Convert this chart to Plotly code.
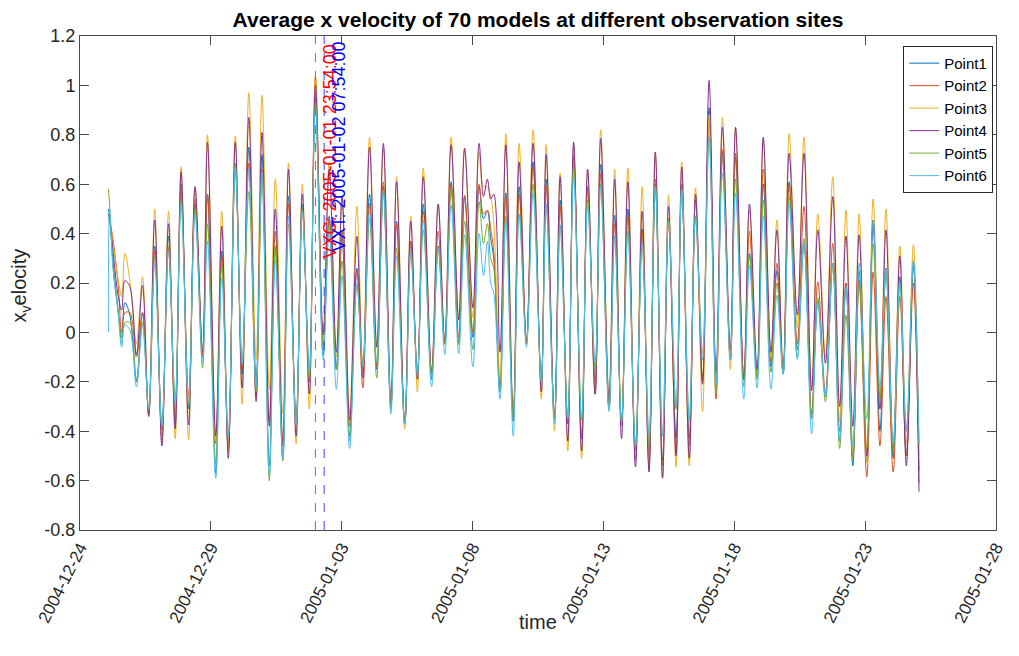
import pandas as pd
import plotly.graph_objects as go

# Sample times: hours after the first record
start_time = "2004-12-25 02:00"
hours = [0.0, 1.1, 4.5, 9.1, 12.2, 15.2, 19.7, 25.8, 31.3, 37.0,
         42.5, 49.1, 55.2, 61.3, 66.7, 73.6, 79.5, 86.4, 90.9, 98.5,
         104.0, 110.0, 116.4, 122.7, 128.8, 135.5, 140.9, 147.6, 153.1, 160.0,
         165.2, 172.2, 177.9, 184.3, 189.9, 197.0, 202.5, 209.1, 214.3, 221.3,
         227.9, 233.4, 239.5, 246.1, 252.2, 259.1, 264.3, 271.8, 277.3, 283.4,
         288.8, 296.4, 302.5, 308.5, 314.3, 321.3, 326.7, 334.3, 340.0, 344.0,
         347.6, 350.6, 353.4, 359.1, 364.5, 371.3, 376.7, 383.4, 389.5, 397.0,
         401.5, 409.1, 414.3, 421.3, 426.7, 434.0, 439.5, 446.4, 451.5, 459.1,
         464.3, 470.6, 476.4, 483.4, 489.5, 495.8, 501.6, 508.2, 513.7, 520.6,
         525.8, 532.7, 538.5, 544.9, 550.9, 557.3, 563.1, 570.4, 575.2, 582.7,
         587.9, 594.9, 600.6, 607.6, 613.1, 618.8, 624.3, 631.8, 637.9, 644.9,
         650.6, 657.6, 664.3, 670.6, 676.4, 682.7, 688.5, 695.5, 701.3, 707.6,
         713.1, 719.7, 725.8, 731.8, 738.2, 743.4]

point1 = [0.50, 0.47, 0.28, 0.08, -0.02, 0.12, 0.07, -0.20, 0.08, -0.33,
          0.35, -0.39, 0.39, -0.37, 0.60, -0.31, 0.52, -0.10, 0.56, -0.57,
          0.33, -0.47, 0.67, -0.17, 0.75, -0.20, 0.72, -0.54, 0.34, -0.51,
          0.55, -0.36, 0.52, -0.16, 0.95, -0.09, 0.47, -0.15, 0.39, -0.42,
          0.26, -0.15, 0.56, -0.15, 0.59, -0.31, 0.45, -0.37, 0.37, -0.165,
          0.52, -0.19, 0.35, -0.045, 0.61, -0.045, 0.55, -0.02, 0.59, 0.46,
          0.49, 0.38, 0.30, -0.24, 0.565, -0.35, 0.59, -0.045, 0.69, -0.20,
          0.62, -0.35, 0.535, -0.37, 0.72, -0.43, 0.59, -0.20, 0.68, -0.31,
          0.475, -0.37, 0.50, -0.48, 0.42, -0.50, 0.60, -0.52, 0.455, -0.43,
          0.59, -0.43, 0.535, -0.19, 0.91, -0.20, 0.73, -0.11, 0.71, -0.19,
          0.32, -0.18, 0.60, -0.14, 0.25, -0.165, 0.61, -0.07, 0.36, -0.33,
          0.125, -0.26, 0.28, -0.44, 0.20, -0.54, 0.25, -0.52, 0.455, -0.40,
          0.26, -0.51, 0.225, -0.50, 0.29, -0.56]

point2 = [0.48, 0.46, 0.37, 0.19, 0.00, 0.08, 0.08, -0.10, 0.08, -0.33,
          0.33, -0.42, 0.34, -0.35, 0.57, -0.26, 0.54, -0.09, 0.56, -0.45,
          0.31, -0.47, 0.685, -0.15, 0.685, -0.26, 0.66, -0.36, 0.41, -0.44,
          0.52, -0.36, 0.50, -0.20, 1.03, -0.05, 0.46, -0.15, 0.41, -0.38,
          0.25, -0.225, 0.52, -0.14, 0.61, -0.30, 0.44, -0.37, 0.37, -0.165,
          0.49, -0.17, 0.41, -0.045, 0.60, -0.02, 0.555, 0.00, 0.60, 0.48,
          0.495, 0.42, 0.33, -0.21, 0.55, -0.35, 0.56, -0.045, 0.67, -0.20,
          0.59, -0.35, 0.51, -0.37, 0.71, -0.43, 0.585, -0.25, 0.64, -0.31,
          0.44, -0.37, 0.47, -0.51, 0.41, -0.54, 0.62, -0.54, 0.46, -0.48,
          0.60, -0.46, 0.47, -0.20, 0.87, -0.27, 0.74, -0.11, 0.725, -0.19,
          0.41, -0.18, 0.66, -0.12, 0.28, -0.165, 0.60, -0.045, 0.51, -0.35,
          0.205, -0.245, 0.36, -0.40, 0.20, -0.51, 0.21, -0.585, 0.245, -0.46,
          0.145, -0.565, 0.145, -0.50, 0.20, -0.61]

point3 = [0.47, 0.45, 0.35, 0.21, 0.145, 0.32, 0.21, -0.045, 0.225, -0.34,
          0.50, -0.45, 0.49, -0.43, 0.67, -0.435, 0.59, -0.08, 0.80, -0.44,
          0.49, -0.48, 0.795, -0.29, 0.97, -0.11, 0.96, -0.23, 0.62, -0.33,
          0.685, -0.45, 0.60, -0.31, 1.04, -0.04, 0.69, -0.10, 0.52, -0.33,
          0.51, -0.15, 0.79, -0.05, 0.75, -0.29, 0.63, -0.39, 0.47, -0.24,
          0.665, -0.16, 0.52, -0.045, 0.79, 0.05, 0.745, 0.06, 0.73, 0.59,
          0.59, 0.55, 0.45, -0.19, 0.805, -0.34, 0.765, -0.045, 0.82, -0.27,
          0.76, -0.40, 0.645, -0.48, 0.76, -0.51, 0.66, -0.24, 0.82, -0.26,
          0.66, -0.38, 0.665, -0.52, 0.59, -0.54, 0.73, -0.59, 0.555, -0.545,
          0.69, -0.54, 0.585, -0.32, 0.88, -0.24, 0.87, -0.15, 0.83, -0.19,
          0.50, -0.18, 0.78, -0.10, 0.455, -0.15, 0.805, 0.02, 0.79, -0.235,
          0.48, -0.10, 0.63, -0.36, 0.495, -0.48, 0.48, -0.53, 0.54, -0.27,
          0.50, -0.48, 0.35, -0.45, 0.355, -0.50]

point4 = [0.48, 0.46, 0.32, 0.145, 0.09, 0.21, 0.185, -0.09, 0.19, -0.34,
          0.455, -0.46, 0.44, -0.39, 0.65, -0.375, 0.59, -0.08, 0.77, -0.42,
          0.43, -0.51, 0.77, -0.225, 0.87, -0.28, 0.81, -0.38, 0.50, -0.46,
          0.66, -0.42, 0.56, -0.25, 1.00, -0.01, 0.66, -0.08, 0.55, -0.355,
          0.39, -0.185, 0.75, -0.06, 0.765, -0.29, 0.61, -0.37, 0.45, -0.19,
          0.63, -0.16, 0.52, -0.045, 0.76, 0.05, 0.745, 0.10, 0.765, 0.55,
          0.62, 0.54, 0.56, -0.08, 0.76, -0.36, 0.69, -0.045, 0.765, -0.24,
          0.72, -0.35, 0.63, -0.44, 0.77, -0.48, 0.66, -0.25, 0.785, -0.28,
          0.62, -0.43, 0.61, -0.545, 0.49, -0.565, 0.73, -0.59, 0.51, -0.50,
          0.67, -0.51, 0.56, -0.21, 1.02, -0.165, 0.83, -0.07, 0.83, -0.19,
          0.52, -0.15, 0.79, -0.08, 0.415, -0.165, 0.725, 0.07, 0.725, -0.235,
          0.415, -0.125, 0.55, -0.30, 0.39, -0.38, 0.395, -0.50, 0.455, -0.31,
          0.415, -0.48, 0.31, -0.54, 0.27, -0.645]

point5 = [0.58, 0.52, 0.25, 0.09, -0.045, 0.04, 0.04, -0.19, 0.04, -0.31,
          0.31, -0.38, 0.35, -0.27, 0.54, -0.29, 0.50, -0.145, 0.44, -0.53,
          0.27, -0.41, 0.68, -0.12, 0.57, -0.24, 0.63, -0.60, 0.35, -0.52,
          0.44, -0.36, 0.50, -0.19, 0.93, -0.07, 0.435, -0.15, 0.29, -0.44,
          0.19, -0.125, 0.46, -0.185, 0.565, -0.30, 0.34, -0.37, 0.33, -0.165,
          0.415, -0.17, 0.35, -0.05, 0.58, -0.05, 0.45, -0.07, 0.53, 0.36,
          0.44, 0.30, 0.26, -0.24, 0.47, -0.35, 0.48, -0.04, 0.60, -0.20,
          0.51, -0.35, 0.435, -0.35, 0.67, -0.355, 0.535, -0.15, 0.60, -0.31,
          0.39, -0.36, 0.41, -0.45, 0.36, -0.46, 0.59, -0.42, 0.455, -0.31,
          0.58, -0.35, 0.47, -0.085, 0.79, -0.25, 0.70, -0.11, 0.62, -0.22,
          0.31, -0.19, 0.535, -0.16, 0.20, -0.165, 0.55, -0.10, 0.38, -0.35,
          0.14, -0.28, 0.28, -0.47, 0.07, -0.51, 0.19, -0.47, 0.36, -0.27,
          0.24, -0.48, 0.20, -0.40, 0.28, -0.455]

point6 = [0.00, 0.50, 0.25, 0.07, -0.06, 0.03, 0.01, -0.22, 0.03, -0.31,
          0.28, -0.38, 0.33, -0.29, 0.52, -0.29, 0.48, -0.12, 0.37, -0.59,
          0.22, -0.42, 0.67, -0.13, 0.66, -0.22, 0.65, -0.58, 0.29, -0.51,
          0.47, -0.37, 0.49, -0.16, 0.91, -0.11, 0.41, -0.23, 0.23, -0.47,
          0.20, -0.14, 0.49, -0.12, 0.575, -0.33, 0.31, -0.37, 0.32, -0.17,
          0.455, -0.22, 0.34, -0.09, 0.515, -0.085, 0.395, -0.14, 0.40, 0.23,
          0.37, 0.20, 0.16, -0.27, 0.455, -0.42, 0.48, -0.06, 0.565, -0.20,
          0.52, -0.37, 0.435, -0.35, 0.63, -0.355, 0.51, -0.12, 0.59, -0.32,
          0.39, -0.36, 0.41, -0.46, 0.36, -0.41, 0.59, -0.42, 0.455, -0.30,
          0.58, -0.36, 0.47, -0.11, 0.79, -0.21, 0.645, -0.11, 0.565, -0.27,
          0.27, -0.225, 0.47, -0.23, 0.15, -0.17, 0.52, -0.11, 0.36, -0.41,
          0.12, -0.26, 0.28, -0.44, 0.185, -0.46, 0.28, -0.35, 0.455, -0.22,
          0.26, -0.45, 0.20, -0.39, 0.29, -0.45]

series_names = ["Point1", "Point2", "Point3", "Point4", "Point5", "Point6"]
series_values = [point1, point2, point3, point4, point5, point6]
series_colors = ["#0072BD", "#D95319", "#EDB120", "#7E2F8E", "#77AC30", "#4DBEEE"]

tick_dates = ["2004-12-24", "2004-12-29", "2005-01-03", "2005-01-08",
              "2005-01-13", "2005-01-18", "2005-01-23", "2005-01-28"]
y_ticks = [-0.8, -0.6, -0.4, -0.2, 0, 0.2, 0.4, 0.6, 0.8, 1, 1.2]
y_tick_labels = ["-0.8", "-0.6", "-0.4", "-0.2", "0", "0.2", "0.4", "0.6", "0.8", "1", "1.2"]

vxc_time = "2005-01-01 23:54:00"
vxt_time = "2005-01-02 07:54:00"

times = pd.Timestamp(start_time) + pd.to_timedelta(hours, unit="h")

FONT = "Liberation Sans, Arial, sans-serif"

fig = go.Figure()
for name, vals, col in zip(series_names, series_values, series_colors):
    fig.add_trace(go.Scatter(
        x=times, y=vals, name=name, mode="lines",
        line=dict(color=col, width=1, shape="spline", smoothing=1.0),
    ))

# Dashed markers for the two event times
for t, col in [(vxc_time, "#FF4040"), (vxt_time, "#4040FF")]:
    fig.add_shape(type="line", xref="x", yref="paper", x0=t, x1=t, y0=0, y1=1,
                  layer="above", line=dict(color=col, width=1, dash="dash"))

fig.add_annotation(x=vxc_time, y=0.293, xref="x", yref="y", text="VXC: " + vxc_time,
                   textangle=-90, showarrow=False, xanchor="center", yanchor="bottom",
                   xshift=15, font=dict(color="#FF0000", size=18, family=FONT))
fig.add_annotation(x=vxt_time, y=0.32, xref="x", yref="y", text="VXT: " + vxt_time,
                   textangle=-90, showarrow=False, xanchor="center", yanchor="bottom",
                   xshift=15, font=dict(color="#0000FF", size=18, family=FONT))

# Axis titles placed in pixel terms relative to the plot area
plot_w = 1019 - 80 - 17
plot_h = 656 - 36 - 126
fig.add_annotation(x=(541 - 80) / plot_w, y=(656 - 126 - 622) / plot_h,
                   xref="paper", yref="paper", text="time", showarrow=False,
                   font=dict(size=20, color="#262626", family=FONT),
                   xanchor="center", yanchor="middle")
fig.add_annotation(x=(20 - 80) / plot_w, y=(656 - 126 - 285) / plot_h,
                   xref="paper", yref="paper", text="x<sub>v</sub>elocity",
                   showarrow=False, textangle=-90,
                   font=dict(size=20, color="#262626", family=FONT),
                   xanchor="center", yanchor="middle")

axis_col = "#4a4a4a"
fig.update_layout(
    width=1019, height=656,
    margin=dict(l=80, r=17, t=36, b=126),
    plot_bgcolor="white", paper_bgcolor="white",
    font=dict(family=FONT, color="#262626", size=18),
    title=dict(text="<b>Average x velocity of 70 models at different observation sites</b>",
               x=0.5, xref="paper", xanchor="center", y=1 - 20 / 656, yanchor="middle",
               font=dict(size=21, color="black")),
    showlegend=True,
    legend=dict(x=0.997, y=0.98, xanchor="right", yanchor="top",
                bgcolor="white", bordercolor="#262626", borderwidth=1,
                font=dict(size=15, color="black"), tracegroupgap=0, itemwidth=30),
)

fig.update_xaxes(
    type="date", range=["2004-12-24", "2005-01-28"],
    tickvals=tick_dates, ticktext=tick_dates, tickfont=dict(size=17),
    tickangle=-63, ticks="inside", ticklen=9, tickcolor=axis_col,
    showline=True, linecolor=axis_col, linewidth=1, mirror="ticks",
    showgrid=False, zeroline=False,
)
fig.update_yaxes(
    range=[-0.8, 1.2], tickvals=y_ticks, ticktext=y_tick_labels, tickfont=dict(size=18),
    ticks="inside", ticklen=9, tickcolor=axis_col,
    showline=True, linecolor=axis_col, linewidth=1, mirror="ticks",
    showgrid=False, zeroline=False,
)

fig.write_html("out.html")
